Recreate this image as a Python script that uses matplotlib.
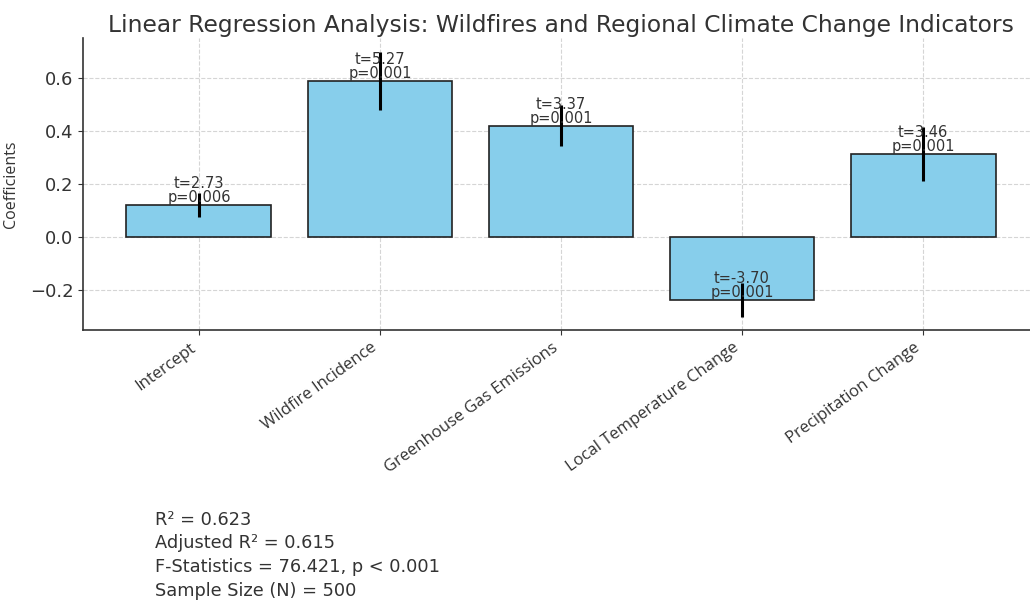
import matplotlib
matplotlib.use("Agg")
import matplotlib.pyplot as plt

# regression results
variables = ["Intercept", "Wildfire Incidence", "Greenhouse Gas Emissions",
             "Local Temperature Change", "Precipitation Change"]
coefficients = [0.121, 0.589, 0.420, -0.238, 0.313]
std_errors = [0.045, 0.110, 0.078, 0.064, 0.100]
t_values = [2.73, 5.27, 3.37, -3.70, 3.46]
p_values = [0.006, 0.001, 0.001, 0.001, 0.001]

model_stats = ["R² = 0.623",
               "Adjusted R² = 0.615",
               "F-Statistics = 76.421, p < 0.001",
               "Sample Size (N) = 500"]

fig = plt.figure(figsize=(10.3, 6.03), dpi=100)
ax = fig.add_axes([83 / 1030, 273 / 603, 956 / 1030, 292 / 603])

x = range(len(variables))
ax.bar(x, coefficients, width=0.8, color="skyblue", edgecolor="#222222",
       linewidth=1.2, zorder=2)
ax.errorbar(x, coefficients, yerr=std_errors, fmt="none", ecolor="black",
            elinewidth=2.2, capsize=0, zorder=3)

for i, (c, t, p) in enumerate(zip(coefficients, t_values, p_values)):
    ax.text(i, c, f"t={t:.2f}\np={p:.3f}", ha="center", va="bottom",
            fontsize=10.5, color="#333333", linespacing=0.9, zorder=4)

ax.set_xlim(-0.64, 4.64)
ax.set_ylim(-0.35, 0.75)
ax.set_yticks([-0.2, 0.0, 0.2, 0.4, 0.6])
ax.set_xticks(list(x))
ax.set_xticklabels(variables, rotation=36, ha="right",
                   fontsize=12, family="Open Sans", color="#333333")
ax.tick_params(axis="y", labelsize=13, labelcolor="#333333", colors="#333333")
ax.tick_params(axis="x", colors="#333333")
ax.set_ylabel("Coefficients", fontsize=11.5, family="Open Sans", color="#333333",
              labelpad=8)
ax.set_title("Linear Regression Analysis: Wildfires and Regional Climate Change Indicators",
             fontsize=16.8, color="#333333", pad=4)

ax.grid(True, linestyle="--", color="#d5d5d5", linewidth=0.8, zorder=0)
ax.set_axisbelow(True)
ax.spines["top"].set_visible(False)
ax.spines["right"].set_visible(False)
for s in ("left", "bottom"):
    ax.spines[s].set_color("#333333")
    ax.spines[s].set_linewidth(1.2)

# model summary below the chart
for k, line in enumerate(model_stats):
    fig.text(155 / 1030, 1 - (520 + 23.5 * k) / 603, line, fontsize=12.8,
             color="#333333", va="center", ha="left")

fig.savefig("out.png", dpi=100)
